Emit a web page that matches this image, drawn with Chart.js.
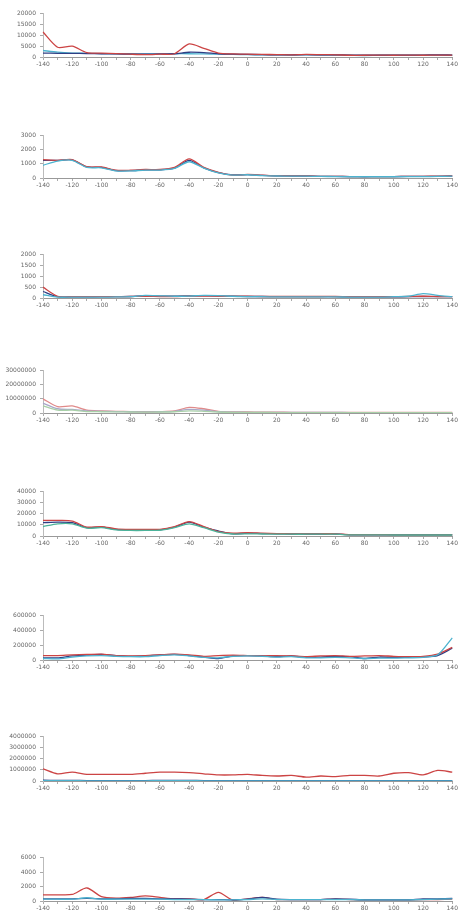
<!DOCTYPE html>
<html>
<head>
<meta charset="utf-8">
<script src="https://cdn.jsdelivr.net/npm/chart.js@4/dist/chart.umd.min.js"></script>
<style>
  html, body { margin: 0; padding: 0; background: #fff; }
  #page { position: relative; width: 459px; height: 917px; overflow: hidden; }
  .panel { position: absolute; left: 0; width: 459px; }
</style>
</head>
<body>
<div id="page"></div>
<script>
// Categories (x axis, degrees)
const xLabels = [-140, -130, -120, -110, -100, -90, -80, -70, -60, -50, -40, -30, -20, -10, 0,
  10, 20, 30, 40, 50, 60, 70, 80, 90, 100, 110, 120, 130, 140];

// Panel 1
const red1 = [11500, 4500, 5000, 2000, 1800, 1600, 1300, 1100, 1300, 1500, 6000, 4000, 1800, 1400, 1300, 1200, 1100, 1000, 1200, 1100, 1000, 800, 800, 900, 800, 900, 800, 900, 900];
const blue1 = [1800, 1700, 1700, 1600, 1500, 1400, 1300, 1300, 1400, 1500, 2200, 2000, 1500, 1300, 1200, 1100, 1000, 1000, 1100, 1000, 1000, 900, 800, 900, 900, 900, 900, 1000, 900];
const cyan1 = [3000, 2200, 1800, 1700, 1600, 1500, 1500, 1400, 1400, 1500, 1500, 1400, 1300, 1200, 1100, 1000, 1000, 900, 1000, 900, 900, 800, 700, 800, 800, 800, 800, 900, 900];

// Panel 2
const red2 = [1300, 1250, 1300, 800, 780, 550, 550, 600, 600, 750, 1350, 750, 400, 200, 250, 200, 150, 150, 150, 120, 120, 100, 100, 100, 100, 120, 120, 130, 150];
const blue2 = [1250, 1250, 1280, 780, 750, 520, 520, 580, 580, 700, 1250, 720, 380, 220, 240, 180, 150, 140, 140, 120, 110, 100, 90, 100, 100, 110, 110, 120, 140];
const cyan2 = [900, 1200, 1250, 750, 720, 500, 500, 560, 560, 680, 1150, 700, 360, 200, 230, 170, 140, 130, 130, 110, 100, 90, 90, 90, 90, 100, 100, 110, 130];

// Panel 3
const red3 = [500, 80, 60, 60, 60, 60, 70, 80, 70, 70, 90, 90, 80, 80, 80, 70, 70, 70, 70, 70, 70, 60, 60, 60, 60, 70, 80, 70, 60];
const blue3 = [300, 60, 50, 50, 60, 60, 70, 110, 90, 80, 100, 110, 100, 80, 70, 70, 60, 60, 60, 60, 60, 50, 50, 50, 50, 60, 70, 60, 60];
const cyan3 = [150, 40, 40, 40, 40, 50, 60, 120, 100, 80, 90, 120, 110, 80, 60, 60, 50, 50, 50, 50, 50, 40, 40, 40, 60, 80, 200, 120, 60];

// Panel 4
const red4 = [10000000, 4500000, 5000000, 2000000, 1500000, 1200000, 1000000, 900000, 1000000, 1500000, 4000000, 3000000, 1200000, 800000, 700000, 600000, 600000, 500000, 500000, 500000, 500000, 400000, 400000, 400000, 400000, 400000, 400000, 400000, 400000];
const gray4 = [7000000, 3000000, 2500000, 1500000, 1200000, 1000000, 900000, 800000, 900000, 1200000, 2500000, 2000000, 900000, 600000, 500000, 500000, 400000, 400000, 400000, 400000, 400000, 300000, 300000, 300000, 300000, 300000, 300000, 300000, 300000];
const green4 = [5000000, 2000000, 2000000, 1000000, 900000, 800000, 700000, 600000, 700000, 900000, 1500000, 1200000, 700000, 500000, 400000, 400000, 300000, 300000, 300000, 300000, 300000, 200000, 200000, 200000, 200000, 200000, 200000, 200000, 200000];

// Panel 5
const red5 = [14000, 14000, 13500, 8000, 8500, 6500, 6000, 6000, 6000, 8500, 13000, 8500, 4000, 2500, 3000, 2500, 2200, 2000, 2000, 2000, 2000, 1200, 1200, 1200, 1100, 1100, 1000, 1000, 1000];
const blue5 = [12000, 12500, 12000, 7500, 8000, 6000, 5500, 5500, 5500, 8000, 12500, 8000, 4500, 2000, 2500, 2200, 2000, 1800, 1800, 1800, 1800, 1100, 1100, 1100, 1000, 1000, 1000, 1000, 1000];
const cyan5 = [8500, 11000, 11000, 7000, 7500, 5500, 5000, 5000, 5200, 7500, 11000, 7500, 3500, 1800, 2000, 1800, 1700, 1600, 1600, 1600, 1600, 1000, 1000, 1000, 900, 900, 900, 900, 900];

// Panel 6
const red6 = [60000, 60000, 70000, 75000, 80000, 60000, 55000, 60000, 70000, 80000, 70000, 50000, 60000, 65000, 60000, 55000, 60000, 55000, 45000, 55000, 60000, 50000, 55000, 60000, 50000, 45000, 50000, 80000, 170000];
const blue6 = [30000, 30000, 55000, 65000, 75000, 60000, 50000, 55000, 70000, 75000, 60000, 40000, 20000, 55000, 60000, 55000, 45000, 55000, 35000, 40000, 50000, 45000, 20000, 40000, 35000, 35000, 40000, 60000, 160000];
const cyan6 = [20000, 15000, 40000, 55000, 60000, 50000, 45000, 45000, 60000, 70000, 55000, 35000, 30000, 50000, 55000, 50000, 40000, 45000, 30000, 30000, 35000, 30000, 20000, 25000, 25000, 30000, 35000, 70000, 300000];

// Panel 7
const red7 = [1100000, 650000, 800000, 600000, 600000, 600000, 600000, 700000, 800000, 800000, 750000, 650000, 550000, 550000, 600000, 500000, 450000, 500000, 350000, 450000, 400000, 500000, 500000, 450000, 700000, 750000, 550000, 950000, 800000];
const blue7 = [80000, 50000, 50000, 40000, 40000, 40000, 40000, 40000, 50000, 50000, 50000, 40000, 40000, 40000, 40000, 40000, 40000, 40000, 40000, 40000, 40000, 40000, 40000, 40000, 40000, 40000, 40000, 40000, 40000];
const cyan7 = [40000, 30000, 30000, 20000, 20000, 20000, 20000, 20000, 30000, 30000, 30000, 20000, 20000, 20000, 20000, 20000, 20000, 20000, 20000, 20000, 20000, 20000, 20000, 20000, 20000, 20000, 20000, 20000, 20000];

// Panel 8
const red8 = [850, 850, 900, 1800, 600, 400, 500, 700, 500, 300, 300, 200, 1200, 100, 300, 500, 200, 200, 200, 200, 250, 200, 150, 150, 150, 150, 200, 200, 250];
const blue8 = [300, 300, 300, 350, 300, 300, 350, 350, 300, 300, 250, 200, 200, 150, 250, 500, 250, 200, 200, 200, 300, 250, 150, 150, 150, 150, 300, 300, 350];
const cyan8 = [250, 250, 250, 450, 250, 250, 250, 250, 250, 200, 200, 200, 150, 150, 200, 300, 200, 200, 200, 200, 200, 200, 150, 150, 150, 150, 200, 250, 300];

// y axis ranges per panel
const yMax = [20000, 3000, 2000, 30000000, 40000, 600000, 4000000, 6000];
const yStep = [5000, 1000, 500, 10000000, 10000, 200000, 1000000, 2000];

const RED = '#cc4444';
const NAVY = '#2f3f85';
const CYAN = '#4cb3cf';

const panels = [
  [[red1, RED], [blue1, NAVY], [cyan1, CYAN]],
  [[cyan2, CYAN], [red2, RED], [blue2, NAVY]],
  [[cyan3, CYAN], [red3, RED], [blue3, NAVY]],
  [[green4, '#a8d0a8'], [gray4, '#a8a8c8'], [red4, '#e08a8a']],
  [[cyan5, '#4cb39a'], [red5, RED], [blue5, NAVY]],
  [[cyan6, CYAN], [red6, RED], [blue6, NAVY]],
  [[cyan7, CYAN], [blue7, NAVY], [red7, RED]],
  [[cyan8, CYAN], [blue8, NAVY], [red8, RED]]
];

// pixel positions of top tick and zero line on the page
const topTick = [10, 132, 251, 367, 488, 612, 733, 854];
const zeroLine = [57, 178, 298, 413, 536, 660, 781, 901];

const page = document.getElementById('page');

panels.forEach((series, i) => {
  const box = document.createElement('div');
  box.className = 'panel';
  box.style.top = (topTick[i] - 4) + 'px';
  box.style.height = (zeroLine[i] - topTick[i] + 4 + 14) + 'px';
  const canvas = document.createElement('canvas');
  box.appendChild(canvas);
  page.appendChild(box);

  new Chart(canvas, {
    type: 'line',
    data: {
      labels: xLabels,
      datasets: series.map(([values, color]) => ({
        data: values,
        borderColor: color,
        borderWidth: 1.3,
        pointRadius: 0,
        tension: 0.25,
        fill: false
      }))
    },
    options: {
      responsive: true,
      maintainAspectRatio: false,
      animation: false,
      layout: { padding: { top: 0, right: 6, left: 0, bottom: 0 } },
      plugins: { legend: { display: false }, tooltip: { enabled: false } },
      scales: {
        x: {
          type: 'category',
          offset: false,
          grid: { drawOnChartArea: false, tickLength: 3, color: '#aaa' },
          border: { color: '#999' },
          ticks: {
            autoSkip: false,
            maxRotation: 0,
            padding: 1,
            color: '#666',
            font: { family: 'DejaVu Sans', size: 6 },
            callback: (v, idx) => (xLabels[idx] % 20 === 0 ? String(xLabels[idx]) : '')
          },
          afterFit: s => { s.height = 14; }
        },
        y: {
          min: 0,
          max: yMax[i],
          grid: { drawOnChartArea: false, tickLength: 3, color: '#aaa' },
          border: { color: '#bbb' },
          ticks: {
            stepSize: yStep[i],
            padding: 4,
            color: '#666',
            font: { family: 'DejaVu Sans', size: 6 },
            callback: v => String(v)
          },
          afterFit: s => { s.width = 43; }
        }
      }
    }
  });
});
</script>
</body>
</html>
